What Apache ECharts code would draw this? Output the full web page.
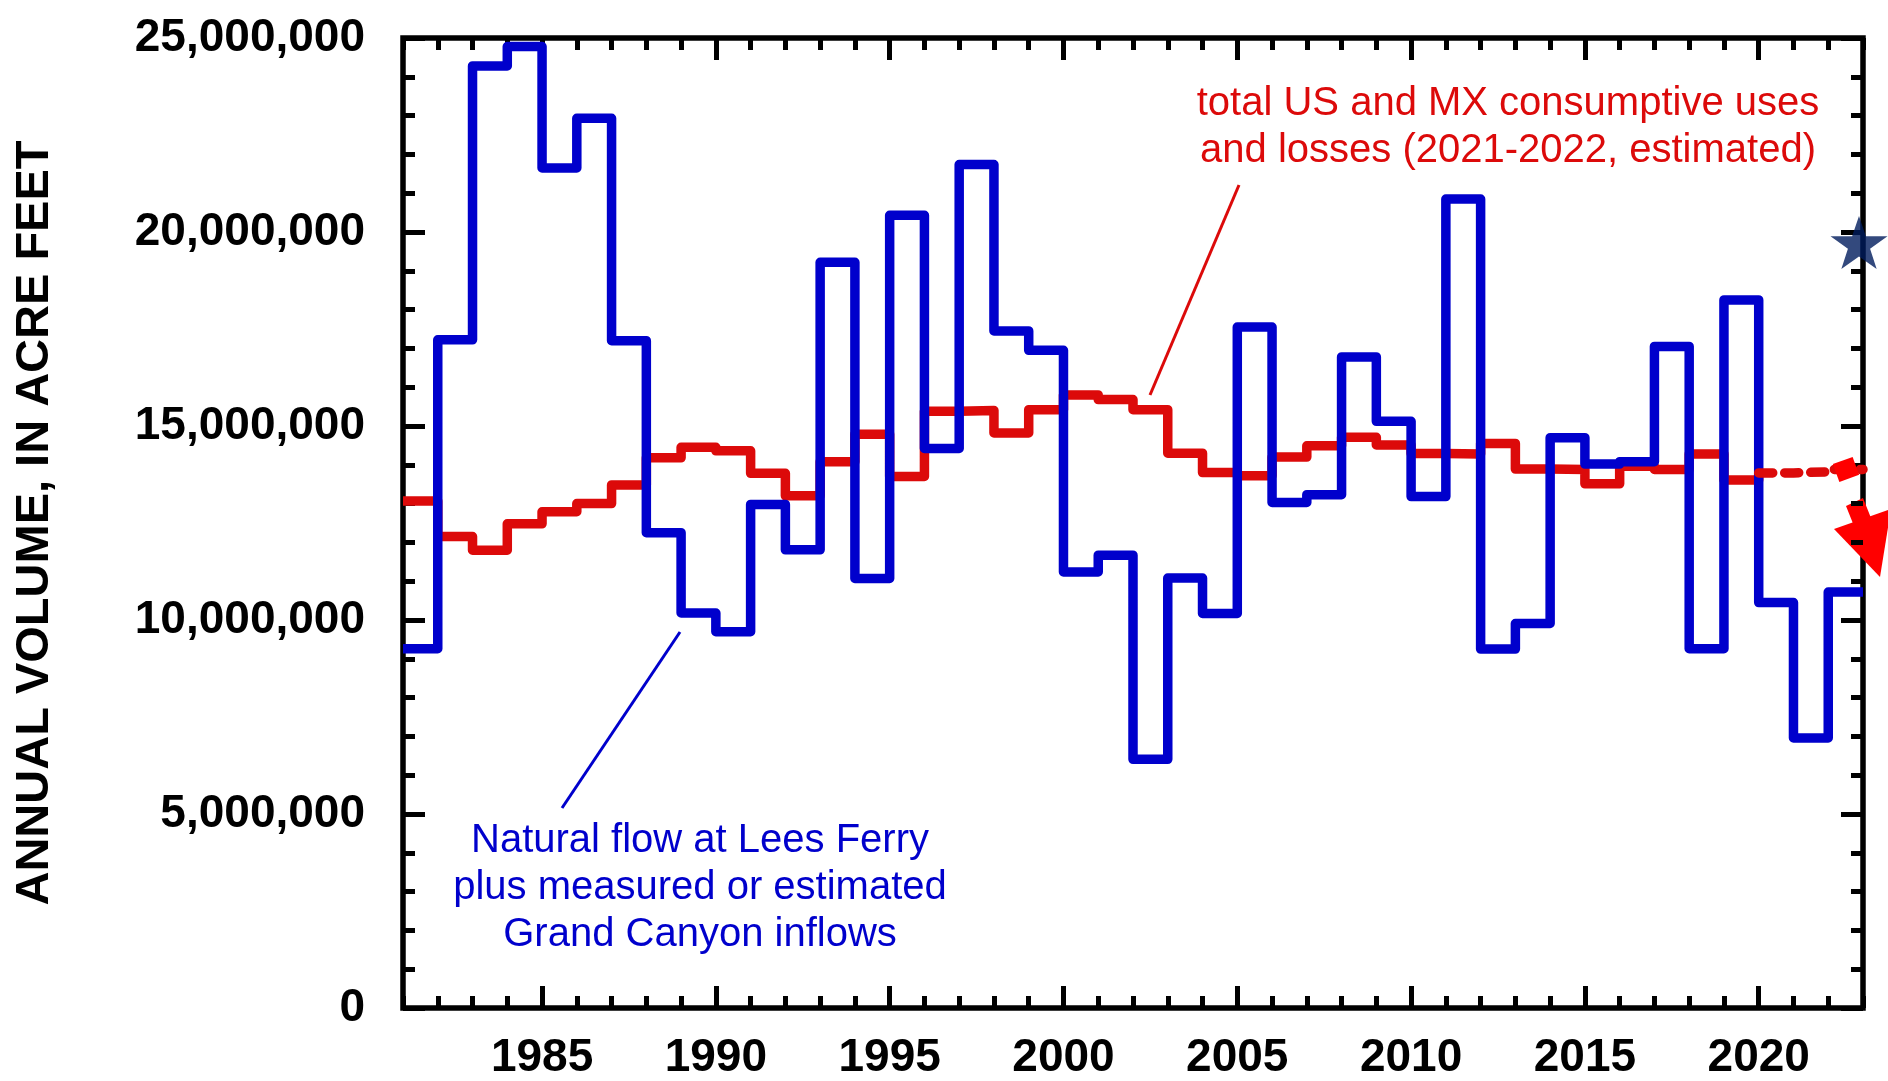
<!DOCTYPE html>
<html>
<head>
<meta charset="utf-8">
<title>Annual volume, in acre feet</title>
<script src="https://cdn.jsdelivr.net/npm/echarts@6/dist/echarts.min.js"></script>
<style>
  html, body { margin: 0; padding: 0; background: #ffffff; }
  #chart { width: 1888px; height: 1081px; }
</style>
</head>
<body>
<div id="chart"></div>
<script>
// Water years; each value is drawn as a step from the year to the next year.
const waterYears = [
  1981, 1982, 1983, 1984, 1985, 1986, 1987, 1988, 1989, 1990,
  1991, 1992, 1993, 1994, 1995, 1996, 1997, 1998, 1999, 2000,
  2001, 2002, 2003, 2004, 2005, 2006, 2007, 2008, 2009, 2010,
  2011, 2012, 2013, 2014, 2015, 2016, 2017, 2018, 2019, 2020,
  2021, 2022
];

// Natural flow at Lees Ferry plus Grand Canyon inflows (acre-feet)
const naturalFlow = [
   9260000, 17220000, 24280000, 24780000, 21650000, 22930000, 17200000, 12250000, 10180000,  9700000,
  12980000, 11810000, 19220000, 11070000, 20430000, 14420000, 21740000, 17450000, 16950000, 11240000,
  11670000,  6410000, 11080000, 10170000, 17550000, 13030000, 13230000, 16780000, 15120000, 13180000,
  20850000,  9250000,  9910000, 14700000, 14020000, 14080000, 17050000,  9260000, 18250000, 10450000,
   6960000, 10720000
];

// Total US and MX consumptive uses and losses (acre-feet), reported years
const reportedYears = [
  1981, 1982, 1983, 1984, 1985, 1986, 1987, 1988, 1989, 1990,
  1991, 1992, 1993, 1994, 1995, 1996, 1997, 1998, 1999, 2000,
  2001, 2002, 2003, 2004, 2005, 2006, 2007, 2008, 2009, 2010,
  2011, 2012, 2013, 2014, 2015, 2016, 2017, 2018, 2019
];
const consumptiveUse = [
  13070000, 12150000, 11800000, 12480000, 12790000, 13000000, 13480000, 14180000, 14450000, 14360000,
  13780000, 13200000, 14080000, 14790000, 13700000, 15380000, 15400000, 14820000, 15420000, 15800000,
  15680000, 15420000, 14300000, 13800000, 13720000, 14200000, 14490000, 14710000, 14510000, 14290000,
  14280000, 14550000, 13890000, 13880000, 13510000, 13960000, 13880000, 14280000, 13610000
];

// Estimated consumptive uses and losses (acre-feet)
const estimatedYears = [2020, 2021, 2022];
const estimatedUse = [13790000, 13820000, 13880000];

// Single marked volume on the right-hand axis
const markedYear = 2023;
const markedVolume = 19730000;

// Axis labels
const labelYears = [1985, 1990, 1995, 2000, 2005, 2010, 2015, 2020];
const yMax = 25000000;
const yStep = 5000000;

const FONT = '"Liberation Sans", Arial, Helvetica, sans-serif';
const RED = '#dc0a0a';
const BLUE = '#0000cc';
const BLACK = '#000000';

// Build step points; the last value is held until the following year.
function stepPoints(xs, vs) {
  const pts = xs.map((x, i) => [x, vs[i]]);
  pts.push([xs[xs.length - 1] + 1, vs[vs.length - 1]]);
  return pts;
}

const flowPts = stepPoints(waterYears, naturalFlow);
const reportedPts = reportedYears.map((x, i) => [x, consumptiveUse[i]]);
reportedPts.push([estimatedYears[0], estimatedUse[0]]);
const estimatedPts = stepPoints(estimatedYears, estimatedUse).map((p, i, arr) =>
  i === arr.length - 1
    ? { value: p, symbol: 'rect', symbolSize: [21, 19], symbolRotate: 20, symbolOffset: [-17, 0],
        itemStyle: { color: '#ff0000' } }
    : { value: p, symbol: 'none' }
);

const tickStyle = { color: BLACK, width: 5 };

function xAxisPair(position, withLabels) {
  return [
    {
      type: 'value', min: 1981, max: 2023, interval: 1, position: position,
      axisLine: { show: false },
      axisTick: { show: true, inside: true, length: 12, lineStyle: tickStyle },
      axisLabel: withLabels ? {
        show: true, margin: 27, color: BLACK,
        fontFamily: FONT, fontWeight: 'bold', fontSize: 46,
        formatter: v => (labelYears.indexOf(v) >= 0 ? String(v) : '')
      } : { show: false },
      splitLine: { show: false }
    },
    {
      type: 'value', min: 1981, max: 2023, position: position,
      axisLine: { show: false },
      axisTick: { show: true, inside: true, length: 22, customValues: labelYears, lineStyle: tickStyle },
      axisLabel: { show: false },
      splitLine: { show: false }
    }
  ];
}

function yAxisDef(position, withLabels) {
  return {
    type: 'value', min: 0, max: yMax, interval: yStep, position: position,
    axisLine: { show: false },
    axisTick: { show: true, inside: true, length: 22, lineStyle: tickStyle },
    minorTick: { show: true, splitNumber: 5, length: 12, lineStyle: tickStyle },
    axisLabel: withLabels ? {
      show: true, margin: 38, color: BLACK,
      fontFamily: FONT, fontWeight: 'bold', fontSize: 46,
      padding: [0, 0, 23, 0],
      formatter: v => v.toLocaleString('en-US')
    } : { show: false },
    splitLine: { show: false },
    minorSplitLine: { show: false }
  };
}

const chart = echarts.init(document.getElementById('chart'), null, { renderer: 'canvas' });

chart.setOption({
  animation: false,
  backgroundColor: '#ffffff',
  grid: {
    left: 403, right: 25, top: 38, bottom: 67,
    show: true, borderColor: BLACK, borderWidth: 5.5, backgroundColor: 'transparent'
  },
  xAxis: [].concat(xAxisPair('bottom', true), xAxisPair('top', false)),
  yAxis: [yAxisDef('left', true), yAxisDef('right', false)],
  series: [
    {
      name: 'Consumptive uses and losses',
      type: 'line', step: 'end', data: reportedPts,
      showSymbol: false, symbol: 'none',
      lineStyle: { color: RED, width: 9.5, join: 'round', cap: 'butt' },
      z: 2
    },
    {
      name: 'Natural flow plus Grand Canyon inflows',
      type: 'line', step: 'end', data: flowPts,
      showSymbol: false, symbol: 'none',
      lineStyle: { color: BLUE, width: 9.5, join: 'round', cap: 'butt' },
      z: 3
    },
    {
      name: 'Estimated consumptive uses and losses',
      type: 'line', step: 'end', data: estimatedPts,
      showSymbol: true, clip: false,
      lineStyle: { color: RED, width: 9.5, type: [14, 12], join: 'round', cap: 'round' },
      z: 4
    },
    {
      name: 'Marked volume',
      type: 'scatter', data: [[markedYear, markedVolume]], clip: false,
      symbol: 'path://M50,0 L61.8,35.1 L98.9,35.1 L69,56.8 L80.3,91.9 L50,70.2 L19.7,91.9 L31,56.8 L1.1,35.1 L38.2,35.1 Z',
      symbolSize: [57, 53], symbolOffset: [-4, 0],
      itemStyle: { color: '#001c5c' },
      z: 6
    }
  ],
  graphic: [
    {
      type: 'text', x: 35, y: 523, rotation: Math.PI / 2,
      style: {
        text: 'ANNUAL VOLUME, IN ACRE FEET', fill: BLACK,
        font: 'bold 47px ' + FONT, align: 'center', verticalAlign: 'middle'
      }
    },
    {
      type: 'text', x: 1508, y: 127.5,
      style: {
        text: 'total US and MX consumptive uses\nand losses (2021-2022, estimated)',
        fill: RED, font: '40px ' + FONT, lineHeight: 47,
        align: 'center', verticalAlign: 'middle'
      }
    },
    {
      type: 'line', shape: { x1: 1239, y1: 185, x2: 1150, y2: 395 },
      style: { stroke: RED, lineWidth: 3 }
    },
    {
      type: 'text', x: 700, y: 887.5,
      style: {
        text: 'Natural flow at Lees Ferry\nplus measured or estimated\nGrand Canyon inflows',
        fill: BLUE, font: '40px ' + FONT, lineHeight: 47,
        align: 'center', verticalAlign: 'middle'
      }
    },
    {
      type: 'line', shape: { x1: 680, y1: 632, x2: 562, y2: 808 },
      style: { stroke: BLUE, lineWidth: 3 }
    },
    {
      // downward arrow beside the right-hand axis
      type: 'group', z: 10,
      children: [
        { type: 'polygon', shape: { points: [[1846, 506], [1863, 498], [1871, 518], [1854, 526]] },
          style: { fill: '#ff0000' } },
        { type: 'polygon', shape: { points: [[1834, 529], [1891, 509], [1880, 577]] },
          style: { fill: '#ff0000' } }
      ]
    }
  ]
});
</script>
</body>
</html>
